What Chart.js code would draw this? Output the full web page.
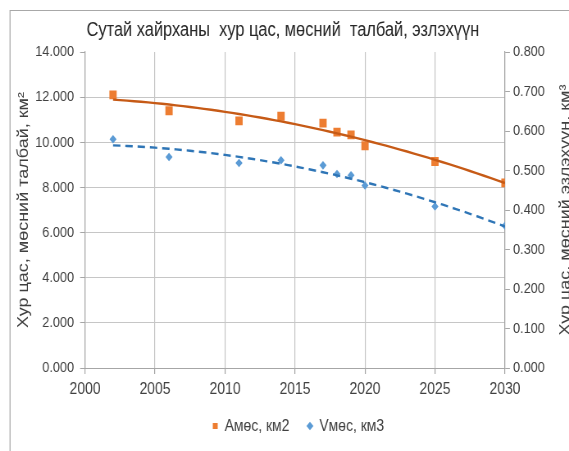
<!DOCTYPE html>
<html>
<head>
<meta charset="utf-8">
<script src="https://cdn.jsdelivr.net/npm/chart.js@4.4.1/dist/chart.umd.min.js"></script>
<style>
  html, body { margin: 0; padding: 0; background: #fff; overflow: hidden; width: 569px; height: 451px; }
  /* the drawing surface is laid out wide and condensed horizontally */
  #wrap { position: absolute; left: 0; top: 0; width: 694px; height: 451px;
          transform: scaleX(0.8199); transform-origin: 0 0; }
</style>
</head>
<body>
<div id="wrap"><canvas id="c"></canvas></div>
<script>
// Observation years and measured values
const years = [2002, 2006, 2011, 2014, 2017, 2018, 2019, 2020, 2025, 2030];
const iceArea = [12.1, 11.4, 10.95, 11.15, 10.85, 10.45, 10.33, 9.85, 9.15, 8.2];       // км²
const iceVolume = [0.579, 0.534, 0.519, 0.526, 0.513, 0.491, 0.488, 0.462, 0.409, 0.360]; // км³

// Axis ticks
const xTicks = [2000, 2005, 2010, 2015, 2020, 2025, 2030];
const areaTicks = [0, 2, 4, 6, 8, 10, 12, 14];
const volumeTicks = [0, 0.1, 0.2, 0.3, 0.4, 0.5, 0.6, 0.7, 0.8];

// Texts
const chartTitle = 'Сутай хайрханы  хур цас, мөсний  талбай, эзлэхүүн';
const leftAxisTitle = 'Хур цас, мөсний талбай, км²';
const rightAxisTitle = 'Хур цас, мөсний эзлэхүүн, км³';
const seriesNames = ['Aмөс, км2', 'Vмөс, км3'];

const FONT = '"Liberation Sans", Arial, sans-serif';
const TEXT = '#404040';
const AXIS = '#a6a6a6';
const GRID = '#c6c6c6';

// Second-order least-squares trend through a series
function quadTrend(xs, ys) {
  const x0 = xs[0];
  const S = [0, 0, 0, 0, 0], T = [0, 0, 0];
  xs.forEach((x, i) => {
    const t = x - x0;
    let p = 1;
    for (let k = 0; k < 5; k++) { S[k] += p; p *= t; }
    T[0] += ys[i]; T[1] += ys[i] * t; T[2] += ys[i] * t * t;
  });
  const det3 = m => m[0][0] * (m[1][1] * m[2][2] - m[1][2] * m[2][1])
                  - m[0][1] * (m[1][0] * m[2][2] - m[1][2] * m[2][0])
                  + m[0][2] * (m[1][0] * m[2][1] - m[1][1] * m[2][0]);
  const M = [[S[0], S[1], S[2]], [S[1], S[2], S[3]], [S[2], S[3], S[4]]];
  const D = det3(M);
  const coef = [0, 1, 2].map(c => det3(M.map((row, r) => row.map((v, j) => j === c ? T[r] : v))) / D);
  const pts = [];
  for (let x = xs[0]; x <= xs[xs.length - 1] + 1e-9; x += 0.5) {
    const t = x - x0;
    pts.push({ x, y: coef[0] + coef[1] * t + coef[2] * t * t });
  }
  return pts;
}

const areaPoints = years.map((x, i) => ({ x, y: iceArea[i] }));
const volumePoints = years.map((x, i) => ({ x, y: iceVolume[i] }));

// Outer frame, chart title and rotated axis titles
const decorations = {
  id: 'decorations',
  beforeDraw(chart) {
    const ctx = chart.ctx;
    ctx.save();
    ctx.strokeStyle = '#a8a8a8';
    ctx.lineWidth = 1.2;
    ctx.beginPath();
    ctx.moveTo(12.2, 451);
    ctx.lineTo(12.2, 10.5);
    ctx.lineTo(chart.width, 10.5);
    ctx.stroke();
    ctx.restore();
  },
  afterDraw(chart) {
    const ctx = chart.ctx;
    const area = chart.chartArea;
    const midY = (area.top + area.bottom) / 2;
    ctx.save();
    ctx.fillStyle = '#262626';
    ctx.font = '20px ' + FONT;
    ctx.textAlign = 'center';
    ctx.textBaseline = 'middle';
    ctx.fillText(chartTitle, 345, 30);

    ctx.fillStyle = TEXT;
    ctx.font = '18px ' + FONT;
    [[29.3, leftAxisTitle], [690, rightAxisTitle]].forEach(([x, txt]) => {
      ctx.save();
      ctx.translate(x, midY);
      ctx.rotate(-Math.PI / 2);
      ctx.fillText(txt, 0, 0);
      ctx.restore();
    });
    ctx.restore();
  }
};

const setTicks = list => scale => { scale.ticks = list.map(v => ({ value: v })); };
const topValue = areaTicks[areaTicks.length - 1];

new Chart(document.getElementById('c'), {
  type: 'scatter',
  data: {
    datasets: [
      {
        label: seriesNames[0], data: areaPoints, yAxisID: 'y',
        pointStyle: 'rect', pointRadius: 6.3, borderWidth: 0,
        backgroundColor: '#ED7D31', borderColor: '#ED7D31', order: 1
      },
      {
        label: seriesNames[1], data: volumePoints, yAxisID: 'y2',
        pointStyle: 'rectRot', pointRadius: 4.3, borderWidth: 0,
        backgroundColor: '#5B9BD5', borderColor: '#5B9BD5', order: 1
      },
      {
        label: 'trend-area', data: quadTrend(years, iceArea), yAxisID: 'y',
        showLine: true, pointRadius: 0, borderColor: '#C65A16', borderWidth: 2.4, order: 0
      },
      {
        label: 'trend-volume', data: quadTrend(years, iceVolume), yAxisID: 'y2',
        showLine: true, pointRadius: 0, borderColor: '#2E75B6', borderWidth: 2.4,
        borderDash: [9, 6], order: 0
      }
    ]
  },
  options: {
    responsive: true,
    maintainAspectRatio: false,
    animation: false,
    devicePixelRatio: 1,
    layout: { padding: { left: 34, right: 0, top: 52, bottom: 6.5 } },
    plugins: {
      title: { display: false },
      tooltip: { enabled: false },
      legend: {
        position: 'bottom',
        labels: {
          usePointStyle: true, boxWidth: 6, boxHeight: 6, padding: 22,
          color: TEXT, font: { family: FONT, size: 17 },
          filter: item => item.datasetIndex < 2
        }
      }
    },
    scales: {
      x: {
        type: 'linear', min: 2000, max: 2030,
        afterBuildTicks: setTicks(xTicks),
        afterFit: s => { s.height = 27.5; },
        ticks: { padding: 4.8, color: TEXT, font: { family: FONT, size: 17 },
                 maxRotation: 0, autoSkip: false, callback: v => String(v) },
        grid: { color: GRID, lineWidth: 1.2, tickLength: 6, tickColor: AXIS },
        border: { color: AXIS, width: 1 }
      },
      y: {
        position: 'left', min: 0, max: 14,
        afterBuildTicks: setTicks(areaTicks),
        afterFit: s => { s.width = 69.7; },
        ticks: { padding: 7.4, color: TEXT, font: { family: FONT, size: 15.5 },
                 callback: v => Number(v).toFixed(3) },
        grid: {
          color: c => (c.tick && c.tick.value === topValue) ? 'rgba(0,0,0,0)' : GRID,
          lineWidth: 1, tickLength: 6, tickColor: AXIS
        },
        border: { color: AXIS, width: 1.2 }
      },
      y2: {
        position: 'right', min: 0, max: 0.8,
        afterBuildTicks: setTicks(volumeTicks),
        afterFit: s => { s.width = 78.1; },
        ticks: { padding: 3.8, color: TEXT, font: { family: FONT, size: 15.5 },
                 callback: v => Number(v).toFixed(3) },
        grid: { drawOnChartArea: false, tickLength: 6, tickColor: AXIS },
        border: { color: AXIS, width: 1.2 }
      }
    }
  },
  plugins: [decorations]
});
</script>
</body>
</html>
